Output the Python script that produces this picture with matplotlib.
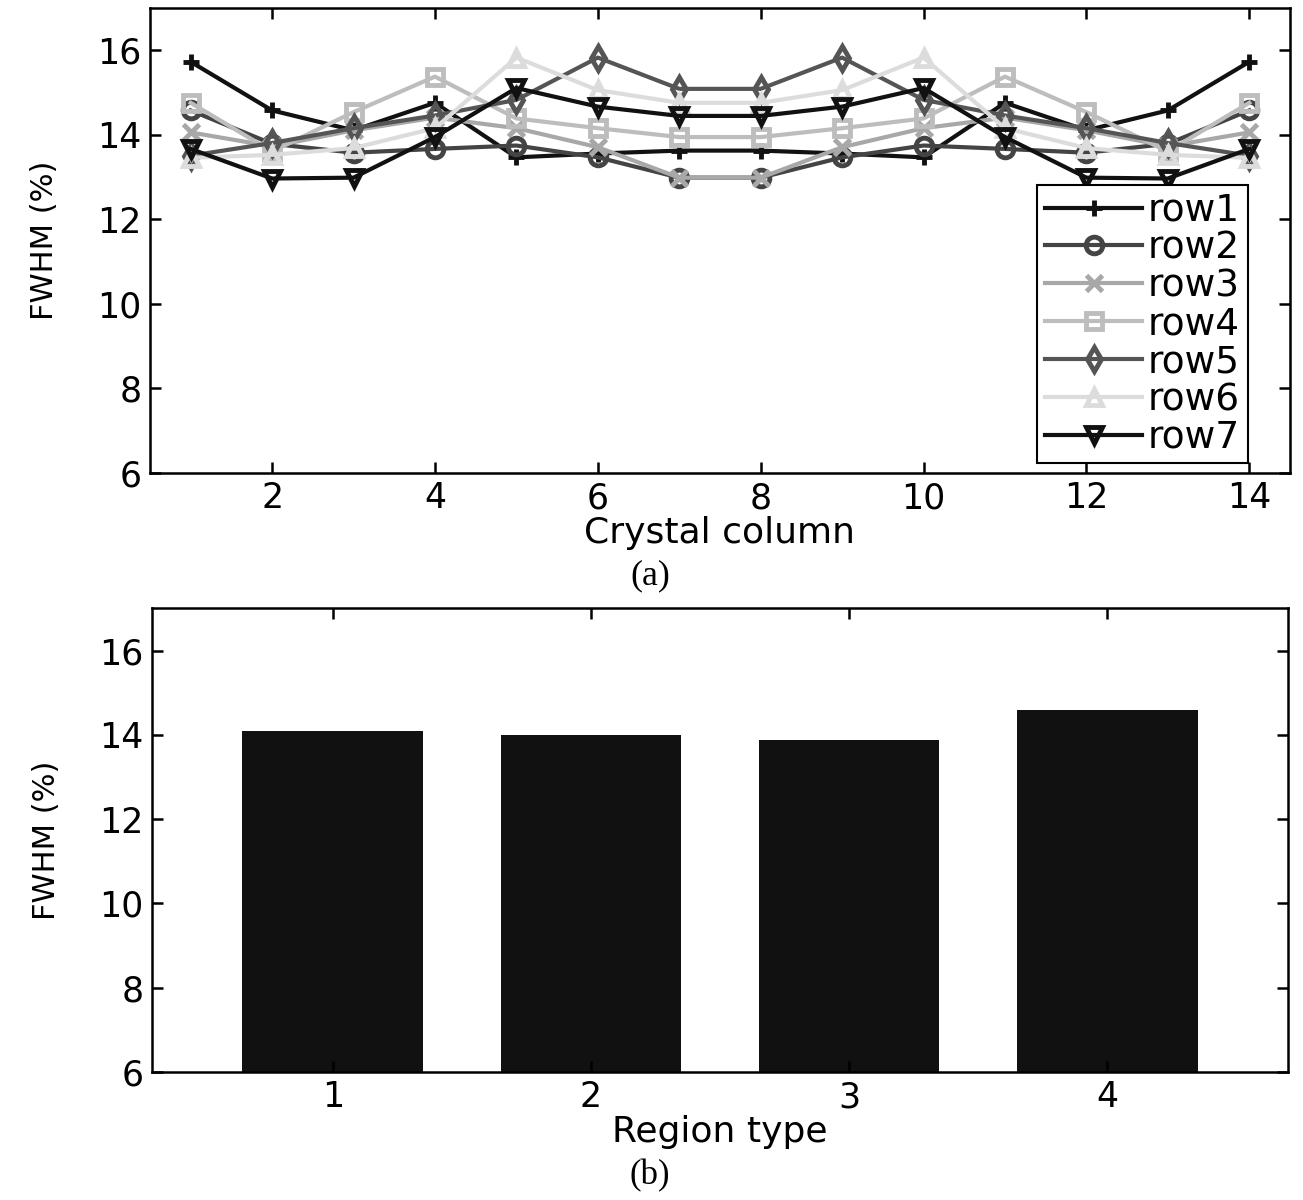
import numpy as np
import matplotlib.pyplot as plt

plt.rcParams['font.family'] = ['DejaVu Sans']

# FWHM per crystal column for each crystal row
columns = np.arange(1, 15)
row1 = [15.72, 14.57, 14.10, 14.75, 13.46, 13.55, 13.62, 13.62, 13.55, 13.46, 14.75, 14.10, 14.57, 15.72]
row2 = [14.57, 13.78, 13.57, 13.66, 13.74, 13.46, 12.98, 12.98, 13.46, 13.74, 13.66, 13.57, 13.78, 14.57]
row3 = [14.05, 13.72, 14.10, 14.40, 14.15, 13.70, 12.98, 12.98, 13.70, 14.15, 14.40, 14.10, 13.72, 14.05]
row4 = [14.75, 13.60, 14.53, 15.37, 14.38, 14.15, 13.94, 13.94, 14.15, 14.38, 15.37, 14.53, 13.60, 14.75]
row5 = [13.50, 13.80, 14.15, 14.45, 14.82, 15.82, 15.08, 15.08, 15.82, 14.82, 14.45, 14.15, 13.80, 13.50]
row6 = [13.45, 13.52, 13.68, 14.15, 15.82, 15.05, 14.75, 14.75, 15.05, 15.82, 14.15, 13.68, 13.52, 13.45]
row7 = [13.66, 12.96, 12.98, 13.94, 15.10, 14.66, 14.44, 14.44, 14.66, 15.10, 13.94, 12.98, 12.96, 13.66]
row_names = ['row1', 'row2', 'row3', 'row4', 'row5', 'row6', 'row7']

# mean FWHM per region type
regions = [1, 2, 3, 4]
region_fwhm = [14.10, 14.00, 13.88, 14.60]

rows = [row1, row2, row3, row4, row5, row6, row7]
colors = ['#111111', '#444444', '#a8a8a8', '#bdbdbd', '#555555', '#dcdcdc', '#111111']
markers = ['+', 'o', 'x', 's', 'd', '^', 'v']

fig = plt.figure(figsize=(13.03, 12.0), dpi=100)
ax1 = fig.add_axes([0.1151, 0.606, 0.8749, 0.3876])
ax2 = fig.add_axes([0.1167, 0.1067, 0.8718, 0.3863])


def matlab_box(ax):
    for s in ax.spines.values():
        s.set_linewidth(1.8)
        s.set_color('black')
    ax.tick_params(direction='in', length=8, width=1.8, pad=6,
                   top=True, right=True, labelsize=25)


for vals, name, c, m in zip(rows, row_names, colors, markers):
    ax1.plot(columns, vals, color=c, marker=m, lw=3, ms=12, mew=3.5,
             mfc='none', mec=c, label=name)
ax1.set_xlim(0.5, 14.5)
ax1.set_ylim(6, 17)
ax1.set_xticks(np.arange(2, 15, 2))
ax1.set_yticks(np.arange(6, 17, 2))
ax1.set_xlabel('Crystal column', fontsize=26, va='top')
ax1.xaxis.set_label_coords(0.5, -0.092)
ax1.set_ylabel('FWHM (%)', fontsize=22)
ax1.yaxis.set_label_coords(-0.08, 0.5)
matlab_box(ax1)
leg = ax1.legend(loc='lower right', bbox_to_anchor=(0.963, 0.02), fontsize=27,
                 handlelength=2.6, handletextpad=0.15, labelspacing=0.05,
                 borderpad=0.2, borderaxespad=0, fancybox=False, framealpha=1,
                 edgecolor='black')
leg.get_frame().set_linewidth(1.5)

ax2.bar(regions, region_fwhm, width=0.7, color='#111111')
ax2.set_xlim(0.3, 4.7)
ax2.set_ylim(6, 17)
ax2.set_xticks(regions)
ax2.set_yticks(np.arange(6, 17, 2))
ax2.set_xlabel('Region type', fontsize=26, va='top')
ax2.xaxis.set_label_coords(0.5, -0.092)
ax2.set_ylabel('FWHM (%)', fontsize=22)
ax2.yaxis.set_label_coords(-0.08, 0.5)
matlab_box(ax2)

fig.text(0.499, 0.52, '(a)', family='Liberation Serif', fontsize=26, ha='center', va='center')
fig.text(0.499, 0.02, '(b)', family='Liberation Serif', fontsize=25, ha='center', va='center')

fig.savefig('out.png', dpi=100)
